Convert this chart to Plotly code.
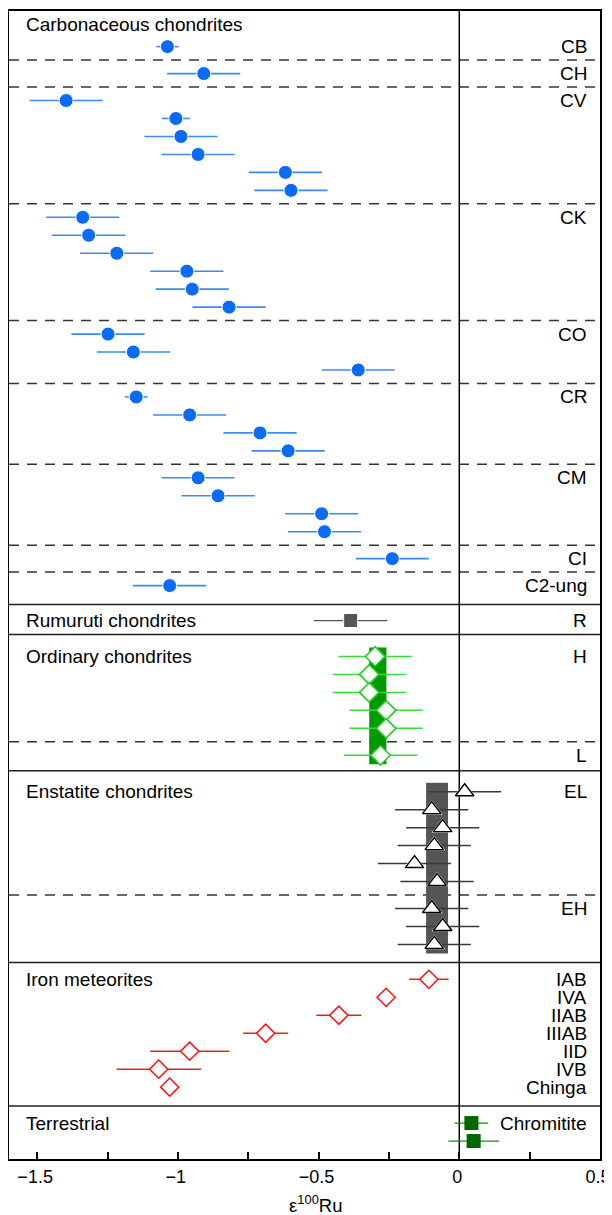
import plotly.graph_objects as go

# ---------------- data (epsilon 100Ru) ----------------
carb_labels = ["CB", "CH", "CV", "CK", "CO", "CR", "CM", "CI", "C2-ung"]
cb_val = [-1.037];                                   cb_err = [0.04]
ch_val = [-0.908];                                   ch_err = [0.13]
cv_val = [-1.397, -1.007, -0.989, -0.928, -0.618, -0.598]
cv_err = [0.13, 0.05, 0.13, 0.13, 0.13, 0.13]
ck_val = [-1.338, -1.317, -1.217, -0.968, -0.949, -0.818]
ck_err = [0.13, 0.13, 0.13, 0.13, 0.13, 0.13]
co_val = [-1.248, -1.158, -0.359];                   co_err = [0.13, 0.13, 0.13]
cr_val = [-1.148, -0.958, -0.708, -0.608];           cr_err = [0.04, 0.13, 0.13, 0.13]
cm_val = [-0.928, -0.857, -0.489, -0.479];           cm_err = [0.13, 0.13, 0.13, 0.13]
ci_val = [-0.238];                                   ci_err = [0.13]
c2_val = [-1.029];                                   c2_err = [0.13]

r_labels = ["R"]
r_val = [-0.386];                                    r_err = [0.13]

oc_labels = ["H", "L"]
h_val = [-0.299, -0.320, -0.320, -0.260, -0.260];   h_err = [0.13, 0.13, 0.13, 0.13, 0.13]
l_val = [-0.280];                                    l_err = [0.13]
oc_band = [-0.320, -0.259]

ec_labels = ["EL", "EH"]
el_val = [0.019, -0.098, -0.059, -0.089, -0.159, -0.079]
el_err = [0.13, 0.13, 0.13, 0.13, 0.13, 0.13]
eh_val = [-0.098, -0.059, -0.089];                   eh_err = [0.13, 0.13, 0.13]
ec_band = [-0.118, -0.040]

iron_labels = ["IAB", "IVA", "IIAB", "IIIAB", "IID", "IVB", "Chinga"]
iron_val = [-0.108, -0.260, -0.428, -0.688, -0.958, -1.068, -1.029]
iron_err = [0.07, 0.0, 0.08, 0.08, 0.14, 0.15, 0.0]

terr_labels = ["Chromitite"]
chrom_val = [0.043, 0.051];                          chrom_err = [0.06, 0.09]

panel_titles = ["Carbonaceous chondrites", "Rumuruti chondrites", "Ordinary chondrites",
                "Enstatite chondrites", "Iron meteorites", "Terrestrial"]

x_ticks = [-1.5, -1.0, -0.5, 0.0, 0.5]
x_ticktext = ["\u22121.5", "\u22121", "\u22120.5", "0", "0.5"]

# ---------------- layout engine (vertical placement, px-like units) ----------------
ROW, GAP, DOFF = 18.0, 27.0, 13.5


def place(top, first_pad, sizes, bottom_pad):
    y = top + first_pad
    rows, dashes, last = [], [], None
    for i, n in enumerate(sizes):
        if i > 0:
            dashes.append(last + DOFF)
            y = last + GAP
        ys = [y + k * ROW for k in range(n)]
        rows.append(ys)
        last = ys[-1]
    return rows, dashes, last + bottom_pad


carb_vals = [cb_val, ch_val, cv_val, ck_val, co_val, cr_val, cm_val, ci_val, c2_val]
carb_errs = [cb_err, ch_err, cv_err, ck_err, co_err, cr_err, cm_err, ci_err, c2_err]

p1_rows, p1_dash, p1_bot = place(0.0, 35.7, [len(v) for v in carb_vals], 19.0)
p2_rows, p2_dash, p2_bot = place(p1_bot, 16.0, [len(r_val)], 14.0)
p3_rows, p3_dash, p3_bot = place(p2_bot, 22.0, [len(h_val), len(l_val)], 15.5)
p4_rows, p4_dash, p4_bot = place(p3_bot, 21.0, [len(el_val), len(eh_val)], 18.0)
p5_rows, p5_dash, p5_bot = place(p4_bot, 17.0, [len(iron_val)], 19.0)
p6_rows, p6_dash, p6_bot = place(p5_bot, 17.0, [len(chrom_val)], 18.0)
TOTAL = p6_bot


def flat(lst):
    return [a for b in lst for a in b]


FONT = "Liberation Sans, Arial, Helvetica, sans-serif"
fig = go.Figure()
shapes = []
annotations = []

# bands
for band, rows, col in [(oc_band, p3_rows, "#009900"), (ec_band, p4_rows, "#555555")]:
    shapes.append(dict(type="rect", xref="x", yref="y", x0=band[0], x1=band[1],
                       y0=rows[0][0] - 9, y1=rows[-1][-1] + 9,
                       fillcolor=col, line=dict(width=0), layer="below"))

# dashed separators
for d in p1_dash + p3_dash + p4_dash:
    shapes.append(dict(type="line", xref="paper", yref="y", x0=0, x1=1, y0=d, y1=d,
                       line=dict(color="#333333", width=1.5, dash="10px,8px"), layer="below"))
# solid panel separators
for b in [p1_bot, p2_bot, p3_bot, p4_bot, p5_bot]:
    shapes.append(dict(type="line", xref="paper", yref="y", x0=0, x1=1, y0=b, y1=b,
                       line=dict(color="#222222", width=1.5), layer="below"))
# zero line
shapes.append(dict(type="line", xref="x", yref="paper", x0=0, x1=0, y0=0, y1=1,
                   line=dict(color="black", width=1.5), layer="below"))

# carbonaceous
fig.add_trace(go.Scatter(
    x=flat(carb_vals), y=flat(p1_rows), mode="markers",
    marker=dict(symbol="circle", size=14, color="#0a6cf5", line=dict(color="white", width=1)),
    error_x=dict(type="data", array=flat(carb_errs), color="#3a8bf7", thickness=1.6, width=0),
    showlegend=False))

# rumuruti
fig.add_trace(go.Scatter(
    x=r_val, y=p2_rows[0], mode="markers",
    marker=dict(symbol="square", size=14, color="#555555", line=dict(color="white", width=1)),
    error_x=dict(type="data", array=r_err, color="#555555", thickness=1.3, width=0),
    showlegend=False))

# ordinary
oc_x = h_val + l_val
oc_y = flat(p3_rows)
fig.add_trace(go.Scatter(
    x=oc_x, y=oc_y, mode="markers",
    marker=dict(symbol="diamond", size=15, color="white", line=dict(color="#22cc22", width=1.6)),
    error_x=dict(type="data", array=h_err + l_err, color="#33dd33", thickness=1.5, width=0),
    showlegend=False))

# enstatite
ec_x = el_val + eh_val
ec_y = flat(p4_rows)
fig.add_trace(go.Scatter(
    x=ec_x, y=ec_y, mode="markers",
    marker=dict(symbol="triangle-up", size=19, color="white", line=dict(color="white", width=0)),
    error_x=dict(type="data", array=el_err + eh_err, color="#3a3a3a", thickness=1.5, width=0),
    showlegend=False))
fig.add_trace(go.Scatter(
    x=ec_x, y=ec_y, mode="markers",
    marker=dict(symbol="triangle-up", size=16, color="white", line=dict(color="black", width=1.4)),
    showlegend=False))

# iron
fig.add_trace(go.Scatter(
    x=iron_val, y=p5_rows[0], mode="markers",
    marker=dict(symbol="diamond", size=14, color="white", line=dict(color="#ff1010", width=1.5)),
    error_x=dict(type="data", array=iron_err, color="#ee2020", thickness=1.5, width=0),
    showlegend=False))

# terrestrial
fig.add_trace(go.Scatter(
    x=chrom_val, y=p6_rows[0], mode="markers",
    marker=dict(symbol="square", size=14, color="#006600", line=dict(color="#006600", width=0)),
    error_x=dict(type="data", array=chrom_err, color="#1a8a1a", thickness=1.3, width=0),
    showlegend=False))

# panel titles
title_y = [13.7, p2_rows[0][0], p3_rows[0][0], p4_rows[0][0], p5_rows[0][0], p6_rows[0][0]]
for t, ty in zip(panel_titles, title_y):
    annotations.append(dict(text=t, xref="paper", yref="y", x=0.025, y=ty, xanchor="left",
                            yanchor="middle", showarrow=False,
                            font=dict(family=FONT, size=19, color="black")))

# group labels
LX = 0.982
label_sets = [(carb_labels, [r[0] for r in p1_rows]), (r_labels, [p2_rows[0][0]]),
              (oc_labels, [r[0] for r in p3_rows]), (ec_labels, [r[0] for r in p4_rows]),
              (iron_labels, p5_rows[0]), (terr_labels, [p6_rows[0][0]])]
for labs, ys in label_sets:
    for lab, ly in zip(labs, ys):
        annotations.append(dict(text=lab, xref="paper", yref="y", x=LX, y=ly, xanchor="right",
                                yanchor="middle", showarrow=False,
                                font=dict(family=FONT, size=19, color="black")))

# axis title
annotations.append(dict(text="ε<sup>100</sup>Ru", xref="paper", yref="paper", x=0.519,
                        y=-59.5 / TOTAL, xanchor="center", yanchor="bottom", showarrow=False,
                        font=dict(family=FONT, size=18.5, color="black")))

fig.update_layout(
    width=612, height=1215,
    margin=dict(l=1, r=20, t=1, b=64),
    paper_bgcolor="white", plot_bgcolor="white",
    shapes=shapes, annotations=annotations,
    font=dict(family=FONT, size=18, color="black"),
    xaxis=dict(range=[-1.6, 0.5], tickvals=x_ticks, ticktext=x_ticktext, ticks="inside",
               ticklen=7, tickwidth=1.5,
               tickcolor="black", showgrid=False, zeroline=False, showline=True,
               linecolor="black", linewidth=1.5, mirror=True, ticklabelstandoff=1,
               ticklabelshift=-2,
               tickfont=dict(family=FONT, size=18, color="black"),
               minor=dict(dtick=0.25, tick0=0, ticks="inside", ticklen=7, tickwidth=1.5,
                          tickcolor="black", showgrid=False)),
    yaxis=dict(range=[TOTAL, 0], showticklabels=False, ticks="", showgrid=False,
               zeroline=False, showline=True, linecolor="black", linewidth=1.5, mirror=True),
)

fig.write_html("out.html")
